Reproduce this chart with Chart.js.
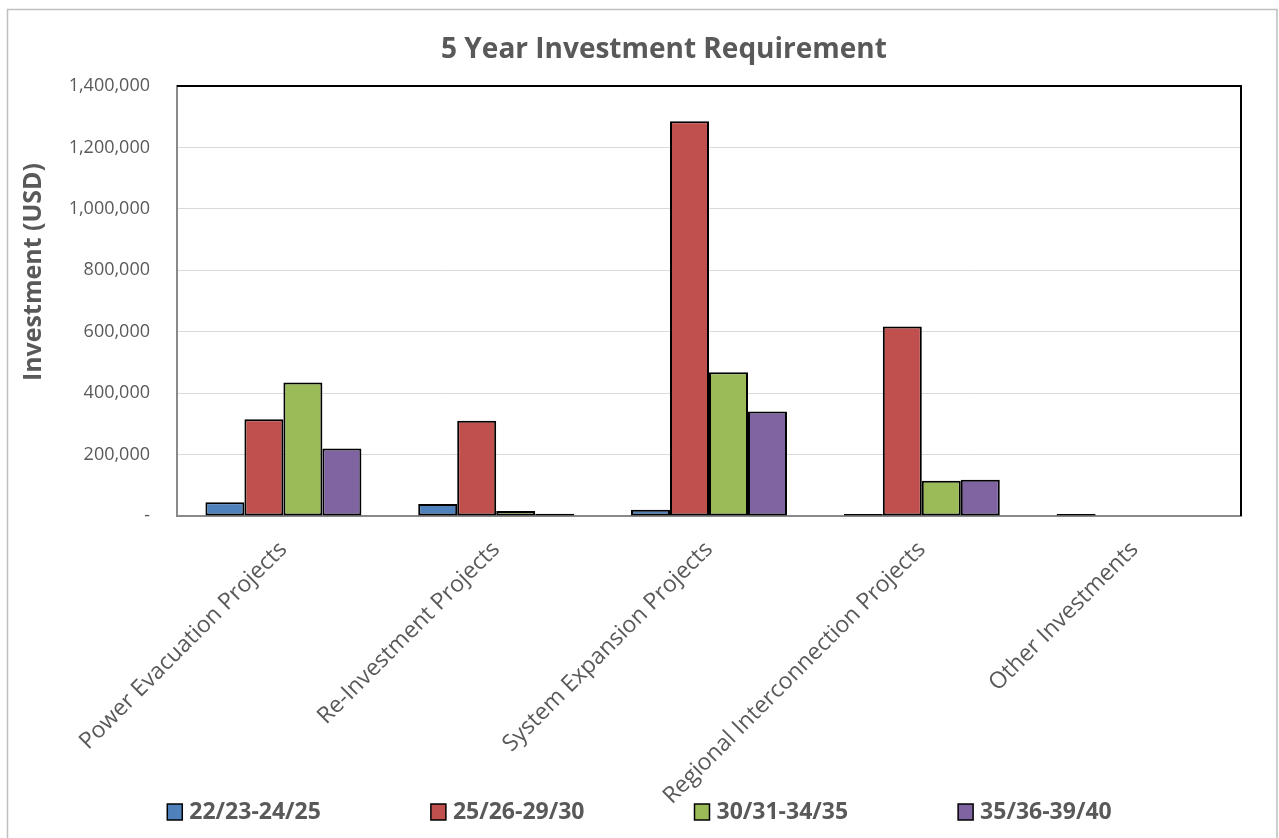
<!DOCTYPE html>
<html>
<head>
<meta charset="utf-8">
<script src="https://cdn.jsdelivr.net/npm/chart.js@4/dist/chart.umd.min.js"></script>
<style>
  html, body { margin: 0; padding: 0; background: #ffffff; }
  #wrap { width: 1279px; height: 838px; position: relative; }
</style>
</head>
<body>
<div id="wrap"><canvas id="c" width="1279" height="838"></canvas></div>
<script>
const categories = [
  "Power Evacuation Projects",
  "Re-Investment Projects",
  "System Expansion Projects",
  "Regional Interconnection Projects",
  "Other Investments"
];
const seriesNames = ["22/23-24/25", "25/26-29/30", "30/31-34/35", "35/36-39/40"];
const s2223_2425 = [45000, 39000, 20000, 1500, 2000];
const s2526_2930 = [315000, 310000, 1285000, 617000, 0];
const s3031_3435 = [435000, 16000, 468000, 115000, 0];
const s3536_3940 = [220000, 7000, 340000, 118000, 0];
const yTicks = [0, 200000, 400000, 600000, 800000, 1000000, 1200000, 1400000];
const chartTitle = "5 Year Investment Requirement";
const yTitle = "Investment (USD)";

const seriesValues = [s2223_2425, s2526_2930, s3031_3435, s3536_3940];
const seriesColors = ["#4F81BD", "#C0504D", "#9BBB59", "#8064A2"];
const TXT = "#595959";

const frame = {
  id: 'frame',
  beforeDraw(chart) {
    const ctx = chart.ctx;
    ctx.save();
    ctx.fillStyle = '#ffffff';
    ctx.fillRect(0, 0, chart.width, chart.height);
    ctx.strokeStyle = '#BFBFBF';
    ctx.lineWidth = 1.5;
    ctx.strokeRect(7.5, 9.5, 1269.5, 840);
    ctx.restore();
  },
  afterDatasetsDraw(chart) {
    const { ctx, chartArea: a } = chart;
    ctx.save();
    ctx.strokeStyle = '#000000';
    ctx.lineWidth = 2;
    ctx.beginPath();
    ctx.moveTo(a.left, a.top);
    ctx.lineTo(a.right, a.top);
    ctx.lineTo(a.right, a.bottom);
    ctx.stroke();
    ctx.restore();
  },
  afterDraw(chart) {
    const ctx = chart.ctx;
    // chart title
    ctx.save();
    ctx.fillStyle = TXT;
    ctx.font = 'bold 28px "Open Sans"';
    ctx.textAlign = 'center';
    ctx.textBaseline = 'middle';
    ctx.fillText(chartTitle, 664, 50);
    ctx.restore();

    // y axis title
    ctx.save();
    ctx.translate(34, 272);
    ctx.rotate(-Math.PI / 2);
    ctx.fillStyle = TXT;
    ctx.font = 'bold 25px "Open Sans"';
    ctx.textAlign = 'center';
    ctx.textBaseline = 'middle';
    ctx.fillText(yTitle, 0, 0);
    ctx.restore();

    // legend
    ctx.save();
    ctx.font = 'bold 23px "Open Sans"';
    ctx.textBaseline = 'middle';
    const box = 15, gapBox = 7, gapItem = 110;
    const widths = chart.data.datasets.map(d => box + gapBox + ctx.measureText(d.label).width);
    const total = widths.reduce((a, b) => a + b, 0) + gapItem * (widths.length - 1);
    let x = (chart.width - total) / 2;
    const y = 812;
    chart.data.datasets.forEach((d, i) => {
      ctx.fillStyle = d.backgroundColor;
      ctx.fillRect(x, y - 8, box, 16);
      ctx.strokeStyle = '#000';
      ctx.lineWidth = 1.5;
      ctx.strokeRect(x, y - 8, box, 16);
      ctx.fillStyle = TXT;
      ctx.textAlign = 'left';
      ctx.fillText(d.label, x + box + gapBox, y);
      x += widths[i] + gapItem;
    });
    ctx.restore();
  }
};

new Chart(document.getElementById('c'), {
  type: 'bar',
  data: {
    labels: categories,
    datasets: seriesNames.map((n, i) => ({
      label: n,
      data: seriesValues[i],
      backgroundColor: seriesColors[i],
      borderColor: '#000000',
      borderWidth: 2,
      borderSkipped: false,
      minBarLength: i === 0 ? 2 : 0,
      categoryPercentage: 0.733,
      barPercentage: 1.0
    }))
  },
  options: {
    responsive: false,
    animation: false,
    devicePixelRatio: 1,
    layout: { padding: { left: 10, right: 38, top: 86, bottom: 0 } },
    plugins: {
      legend: { display: false },
      tooltip: { enabled: false },
      title: { display: false }
    },
    scales: {
      x: {
        grid: { display: false, drawTicks: false },
        border: { display: true, color: '#898989', width: 2 },
        ticks: {
          color: TXT,
          font: { family: '"Open Sans"', size: 23 },
          minRotation: 45,
          maxRotation: 45,
          autoSkip: false,
          padding: 20
        },
        afterFit(scale) { scale.height = 322; }
      },
      y: {
        min: 0,
        max: 1400000,
        afterBuildTicks(scale) { scale.ticks = yTicks.map(v => ({ value: v })); },
        grid: { color: '#D9D9D9', lineWidth: 1, drawTicks: false },
        border: { display: true, color: '#898989', width: 2 },
        ticks: {
          color: TXT,
          font: { family: '"Open Sans"', size: 18 },
          padding: 27,
          callback: v => v === 0 ? '-' : v.toLocaleString('en-US')
        },
        afterFit(scale) { scale.width = 167; }
      }
    }
  },
  plugins: [frame]
});
</script>
</body>
</html>
